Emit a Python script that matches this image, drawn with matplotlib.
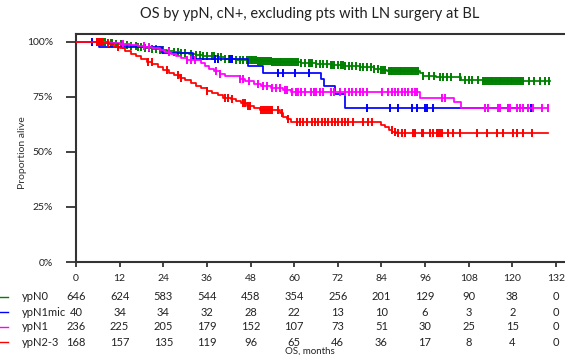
import numpy as np
import matplotlib
matplotlib.use("Agg")
import matplotlib.pyplot as plt
from matplotlib.lines import Line2D
from matplotlib.transforms import blended_transform_factory

plt.rcParams['font.family'] = ['Lato', 'DejaVu Sans']

# --- data ---
month_ticks = [0, 12, 24, 36, 48, 60, 72, 84, 96, 108, 120, 132]
groups = ["ypN0", "ypN1mic", "ypN1", "ypN2-3"]
colors = ["#008000", "#0000ff", "#ff00ff", "#ff0000"]

risk_n0 = [646, 624, 583, 544, 458, 354, 256, 201, 129, 90, 38, 0]
risk_n1mic = [40, 34, 34, 32, 28, 22, 13, 10, 6, 3, 2, 0]
risk_n1 = [236, 225, 205, 179, 152, 107, 73, 51, 30, 25, 15, 0]
risk_n23 = [168, 157, 135, 119, 96, 65, 46, 36, 17, 8, 4, 0]

# KM steps (time in months, survival after step)
t_n0 = [0, 7, 9, 11, 13, 15, 17, 19, 21, 23, 25, 27, 29, 31, 33, 35, 37, 39, 41, 44, 47, 50,
        54, 58, 62, 66, 70, 74, 78, 82, 84, 85.5, 94.5, 95.5, 99, 106, 112]
s_n0 = [1, .998, .995, .991, .987, .982, .977, .972, .968, .964, .958, .953, .948, .944, .94,
        .936, .933, .93, .922, .918, .915, .912, .908, .906, .904, .90, .895, .89, .884, .878,
        .872, .866, .856, .846, .838, .828, .82]
c_n0 = [6.5, 7.5, 8, 9.5, 10, 11, 12.5, 13, 14, 15, 16.5, 17, 18, 19, 20, 21, 22, 23, 24, 25.5,
        27, 28, 29, 30, 31.5, 33, 34, 35, 36, 37.5, 38, 39, 40, 41, 42, 43, 44, 45, 46, 47,
        47.5, 48, 48.5, 49, 49.5, 50, 50.5, 51, 51.5, 52, 52.5, 53, 53.5, 54, 54.5, 55, 55.5,
        56, 56.5, 57, 57.5, 58, 58.5, 59, 59.5, 60, 60.5, 61, 62, 63, 64, 64.5, 65, 66, 67,
        68, 69, 70, 70.5, 71, 72, 73, 73.5, 74, 75, 76, 77, 78, 79, 80, 81, 82, 83,
        84, 84.5, 85, 86, 86.5, 87, 87.5, 88, 88.5, 89, 89.5, 90, 90.5, 91, 91.5, 92, 92.5,
        93, 93.5, 94, 95.5, 97, 98.5, 100, 101, 102, 103, 105.5, 107, 108, 109, 110.5,
        112, 112.5, 113, 113.5, 114, 114.5, 115, 115.5, 116, 116.5, 117, 117.5, 118, 118.5,
        119, 119.5, 120, 120.5, 121, 121.5, 122, 122.5, 123, 124.5, 126, 127.5, 129, 130]

t_n1mic = [0, 6.3, 23.6, 32.3, 47.4, 51.5, 67.5, 68.2, 71.2, 74]
s_n1mic = [1, .975, .95, .922, .889, .859, .829, .80, .763, .697]
c_n1mic = [4.4, 5.8, 38.2, 39, 42.4, 43, 55.6, 57, 60.3, 64, 80, 86.4, 88.6, 92.4, 93.8,
           96, 96.5, 98.2, 118.8, 125]

t_n1 = [0, 8, 10, 12, 15, 17, 19, 21, 23, 24.5, 26, 27.5, 29, 30.5, 34.5, 35.5, 36.5, 38,
        39.5, 41, 45, 46.5, 49, 51, 53.5, 57, 59, 94.6, 104, 106]
s_n1 = [1, .996, .992, .988, .984, .979, .975, .97, .962, .953, .944, .935, .926, .915, .902,
        .89, .878, .866, .852, .844, .832, .821, .81, .80, .79, .78, .773, .745, .725, .697]
c_n1 = [7, 13, 18.7, 20, 25.6, 30.6, 31.5, 32.7, 38.5, 39.6, 45, 46, 47.5, 50, 51.5, 52.5,
        54, 55, 56, 57.5, 58, 59.5, 60.5, 61, 62, 63, 64.5, 65.5, 66, 67, 68, 70, 71, 72.5,
        74, 75, 76, 77, 78, 79, 80, 84.2, 85.8, 86.9, 87.7, 88.6, 89.6, 90.5, 91.3, 92.4,
        93.2, 93.8, 100.7, 101.5, 112.5, 113.3, 116, 116.6, 118.8, 119.4, 121.3, 122.1,
        122.9, 124.3, 125.7, 128.2, 129.8]

t_n23 = [0, 7.5, 9, 10.5, 12, 13.5, 15, 16.5, 18, 19.5, 21, 22.5, 24, 25.5, 27, 28.5, 30,
         31.5, 33, 34.5, 36, 37.5, 39, 40.5, 42.5, 44, 45.5, 47, 49, 50.5, 56, 57, 58, 59,
         84, 85, 86, 87, 88]
s_n23 = [1, .994, .988, .976, .97, .958, .946, .934, .922, .91, .898, .886, .872, .86, .848,
         .836, .824, .812, .80, .79, .778, .766, .756, .746, .74, .73, .72, .71, .70, .692,
         .675, .66, .648, .636, .624, .612, .60, .592, .584]
c_n23 = [5.8, 6.1, 6.4, 6.7, 7.0, 7.2, 8.8, 11.6, 19.8, 20.9, 25, 28, 29, 36, 41, 41.8,
         42.9, 46, 46.6, 47.2, 47.9, 51, 51.5, 52, 52.5, 53, 53.5, 54, 55.6, 56.7, 58.3,
         60.8, 61.6, 62.4, 63.5, 64.9, 65.7, 66.6, 67.7, 68.5, 69.3, 70.4, 71.2, 72.1,
         73.2, 74, 74.8, 76.2, 79, 80.3, 81.4, 86.9, 87.7, 88.6, 89.7, 90.5, 92.7, 93.2,
         95.2, 95.4, 97.4, 98.2, 99.3, 99.6, 100.1, 100.7, 102.3, 103.7, 105.6, 110.3,
         113, 115.8, 117.4, 120.2, 121.3, 122.9, 125.4]

end_time = [130.4, 125, 129.8, 129.8]

curves = [(t_n0, s_n0, c_n0), (t_n1mic, s_n1mic, c_n1mic),
          (t_n1, s_n1, c_n1), (t_n23, s_n23, c_n23)]
risks = [risk_n0, risk_n1mic, risk_n1, risk_n23]

fig = plt.figure(figsize=(5.65, 3.55), dpi=100)
W, H = 565, 355
# axes: left spine at x=76px, 0% at y=262px, top spine at y=34px
ax = fig.add_axes([76 / W, 1 - 262 / H, 494 / W, 228 / H])
ax.set_xlim(0, 494 / 3.636)
ax.set_ylim(0, 228 / 220.3)

for i, (t, s, c) in enumerate(curves):
    t = np.array(t, float)
    s = np.array(s, float)
    tt = np.append(t, end_time[i])
    ss = np.append(s, s[-1])
    ax.step(tt, ss, where='post', color=colors[i], lw=1.25, zorder=2 + i)
    c = np.array(c, float)
    cy = s[np.searchsorted(t, c, side='right') - 1]
    ax.plot(c, cy, ls='none', marker='|', ms=6, mew=1.4, color=colors[i], zorder=2 + i)

axis_col = "#333333"
ax.spines['right'].set_visible(False)
ax.spines['bottom'].set_visible(False)
for sp in ['left', 'top']:
    ax.spines[sp].set_color(axis_col)
    ax.spines[sp].set_linewidth(1.5)
ax.axhline(0, color=axis_col, lw=1.5, zorder=10, clip_on=False)

ax.set_yticks([0, 0.25, 0.5, 0.75, 1.0])
ax.set_yticklabels(['0%', '25%', '50%', '75%', '100%'])
ax.set_xticks(month_ticks)
ax.set_xticklabels([str(m) for m in month_ticks])
ax.tick_params(axis='y', direction='out', length=7.5, width=1.3, color=axis_col,
               labelsize=7.5, labelcolor='#222222', pad=9)
ax.tick_params(axis='x', direction='out', length=3.5, width=1.3, color=axis_col,
               labelsize=7.5, labelcolor='#222222', pad=5)
ax.set_ylabel('Proportion alive', fontsize=7.5, color='#333333')
ax.yaxis.set_label_coords(-(76 - 27) / 494, 0.48)

fig.text(310 / W, 1 - 14 / H, 'OS by ypN, cN+, excluding pts with LN surgery at BL',
         ha='center', va='center', fontsize=10.5, color='#222222')

# number at risk table
trans = blended_transform_factory(ax.transData, fig.transFigure)
row_y = [297, 312, 327, 342]
for i, name in enumerate(groups):
    y = 1 - row_y[i] / H
    fig.add_artist(Line2D([0, 8 / W], [y, y], color=colors[i], lw=1.0))
    fig.text(22 / W, y, name, ha='left', va='center', fontsize=8, color='#222222')
    for m, n in zip(month_ticks, risks[i]):
        ax.text(m, y, str(n), transform=trans, ha='center', va='center', fontsize=8,
                color='#222222', clip_on=False)

fig.text(310 / W, 1 - 351 / H, 'OS, months', ha='center', va='center', fontsize=7,
         color='#222222')

fig.savefig('out.png', dpi=100)
